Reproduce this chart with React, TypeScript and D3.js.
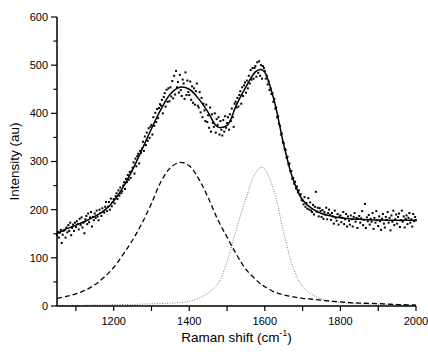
import * as d3 from "d3";
import React, { useEffect, useRef } from "react";

const svgWidth = 428;
const svgHeight = 352;
const margin = { top: 17, right: 12, bottom: 46, left: 57 };

// shift positions (cm-1) where the fitted curves were read
const curveShift = [
  1050, 1075, 1100, 1125, 1150, 1175, 1200, 1225, 1250, 1275, 1300, 1325, 1350,
  1375, 1400, 1425, 1450, 1475, 1500, 1525, 1550, 1575, 1590, 1600, 1625, 1650,
  1675, 1700, 1725, 1750, 1775, 1800, 1825, 1850, 1875, 1900, 1925, 1950, 1975,
  2000,
];

// total fit (solid)
const fitCurve = [
  150, 160, 168, 176, 186, 198, 218, 247, 283, 325, 368, 408, 440, 454, 450,
  430, 402, 372, 375, 418, 455, 486, 491, 485, 425, 335, 262, 220, 202, 192, 187,
  183, 181, 180, 179, 178.5, 178, 178, 178, 178,
];

// D band (dashed)
const dBand = [
  16, 20, 25, 33, 44, 60, 80, 107, 137, 172, 213, 258, 287, 298, 291, 264, 225,
  180, 143, 107, 76, 56, 45, 40, 29, 23, 19, 16, 14, 12, 10, 8.5, 7, 6, 5.5, 5,
  4, 3, 2.5, 2,
];

// G band (dotted)
const gBand = [
  1, 1, 1, 1.5, 2, 2, 2.5, 3, 3, 4, 4.5, 5, 6, 7, 10, 16, 27, 45, 92, 160, 223,
  276, 288, 284, 237, 152, 80, 40, 24, 15, 10, 7, 5.5, 4.5, 4, 3.5, 3, 2.5, 2, 2,
];

// measured spectrum: starts at 1050 cm-1, one point every 2.5 cm-1
const spectrumStart = 1050;
const spectrumStep = 2.5;
const spectrum = [
  147, 154, 142, 152, 158, 131, 148, 156, 158, 142,
  163, 153, 168, 156, 173, 147, 162, 169, 156, 173,
  164, 176, 170, 159, 181, 168, 184, 163, 173, 151,
  180, 187, 170, 192, 174, 184, 195, 165, 185, 178,
  192, 183, 198, 186, 178, 200, 193, 187, 203, 196,
  194, 206, 216, 197, 206, 216, 200, 223, 207, 216,
  222, 213, 228, 234, 222, 240, 229, 246, 234, 238,
  250, 257, 243, 264, 257, 272, 262, 278, 266, 280,
  287, 298, 275, 306, 290, 311, 316, 296, 322, 318,
  327, 341, 322, 352, 334, 360, 343, 369, 349, 372,
  376, 356, 392, 374, 401, 382, 409, 390, 411, 419,
  416, 428, 400, 434, 442, 414, 449, 424, 452, 425,
  454, 435, 467, 431, 478, 439, 488, 454, 465, 443,
  480, 448, 436, 470, 462, 430, 485, 438, 468, 444,
  438, 466, 428, 456, 422, 452, 418, 446, 462, 416,
  412, 444, 402, 432, 392, 420, 406, 384, 418, 382,
  396, 370, 412, 362, 398, 380, 372, 400, 360, 388,
  376, 392, 356, 384, 366, 354, 386, 362, 394, 370,
  380, 392, 366, 398, 384, 410, 392, 372, 420, 424,
  412, 432, 414, 438, 446, 420, 454, 436, 458, 464,
  443, 468, 452, 478, 462, 490, 470, 494, 472, 494,
  498, 476, 506, 484, 508, 478, 500, 472, 498, 494,
  488, 472, 478, 460, 466, 448, 452, 440, 442, 424,
  430, 410, 412, 392, 394, 378, 374, 356, 358, 340,
  338, 326, 324, 308, 310, 294, 296, 280, 280, 264,
  266, 254, 258, 244, 248, 236, 240, 230, 232, 220,
  219, 211, 226, 206, 214, 202, 224, 200, 215, 198,
  195, 210, 190, 206, 237, 196, 204, 186, 203, 197,
  185, 199, 181, 195, 190, 204, 180, 193, 200, 189,
  179, 193, 186, 171, 198, 183, 177, 191, 169, 186,
  188, 174, 183, 195, 170, 180, 191, 165, 186, 177,
  169, 188, 180, 165, 185, 193, 175, 183, 162, 181,
  187, 173, 182, 197, 168, 179, 212, 162, 184, 176,
  189, 169, 181, 175, 193, 160, 183, 173, 197, 178,
  166, 186, 176, 158, 181, 191, 171, 163, 185, 179,
  195, 173, 183, 157, 188, 175, 198, 168, 180, 190,
  171, 185, 192, 164, 178, 198, 175, 186, 163, 181,
  188, 170, 183, 193, 173, 180, 165, 191, 176, 185,
  178,
];

const xTicks = [1200, 1400, 1600, 1800, 2000];
const xMinorTicks = [1100, 1200, 1300, 1400, 1500, 1600, 1700, 1800, 1900, 2000];
const yTicks = [0, 100, 200, 300, 400, 500, 600];
const yMinorTicks = [50, 150, 250, 350, 450, 550];

const font = "'Liberation Sans', Arial, Helvetica, sans-serif";

export default function App() {
  const svgRef = useRef<SVGSVGElement>(null);

  useEffect(() => {
    const svgEl = d3.select(svgRef.current);
    svgEl.selectAll("*").remove();

    const x_scale = d3
      .scaleLinear()
      .domain([1050, 2000])
      .range([margin.left, svgWidth - margin.right]);

    const y_scale = d3
      .scaleLinear()
      .domain([0, 600])
      .range([svgHeight - margin.bottom, margin.top]);

    const y0 = y_scale(0);

    // curves
    const lineFor = (vals: number[]) =>
      d3
        .line<number>()
        .x((d, i) => x_scale(curveShift[i]))
        .y((d) => y_scale(d))
        .curve(d3.curveCatmullRom)(vals);

    // G band (dotted)
    svgEl
      .append("path")
      .attr("d", lineFor(gBand))
      .attr("fill", "none")
      .attr("stroke", "#555")
      .attr("stroke-width", 0.8)
      .attr("stroke-dasharray", "1 1.5");

    // D band (dashed)
    svgEl
      .append("path")
      .attr("d", lineFor(dBand))
      .attr("fill", "none")
      .attr("stroke", "#000")
      .attr("stroke-width", 1.3)
      .attr("stroke-dasharray", "5 3");

    // data points
    svgEl
      .append("g")
      .selectAll("rect")
      .data(spectrum)
      .join("rect")
      .attr("x", (d, i) => x_scale(spectrumStart + i * spectrumStep) - 1)
      .attr("y", (d) => y_scale(d) - 1)
      .attr("width", 2)
      .attr("height", 2)
      .attr("fill", "#000");

    // fit
    svgEl
      .append("path")
      .attr("d", lineFor(fitCurve))
      .attr("fill", "none")
      .attr("stroke", "#000")
      .attr("stroke-width", 1.5);

    /* X AXIS */
    const xAxis = svgEl.append("g");
    xAxis
      .append("line")
      .attr("x1", x_scale(1050))
      .attr("x2", x_scale(2000))
      .attr("y1", y0)
      .attr("y2", y0)
      .attr("stroke", "#000")
      .attr("stroke-width", 1.5);
    xAxis
      .selectAll("line.tick")
      .data(xMinorTicks)
      .join("line")
      .attr("class", "tick")
      .attr("x1", (d) => x_scale(d))
      .attr("x2", (d) => x_scale(d))
      .attr("y1", y0)
      .attr("y2", y0 + 5)
      .attr("stroke", "#000")
      .attr("stroke-width", 1.2);
    xAxis
      .selectAll("text")
      .data(xTicks)
      .join("text")
      .attr("x", (d) => x_scale(d))
      .attr("y", y0 + 19)
      .attr("text-anchor", "middle")
      .attr("font-family", font)
      .attr("font-size", 11)
      .text((d) => d);

    /* Y AXIS */
    const yAxis = svgEl.append("g");
    yAxis
      .append("line")
      .attr("x1", margin.left)
      .attr("x2", margin.left)
      .attr("y1", y_scale(0))
      .attr("y2", y_scale(600))
      .attr("stroke", "#000")
      .attr("stroke-width", 1.5);
    yAxis
      .selectAll("line.major")
      .data(yTicks)
      .join("line")
      .attr("class", "major")
      .attr("x1", margin.left - 6)
      .attr("x2", margin.left)
      .attr("y1", (d) => y_scale(d))
      .attr("y2", (d) => y_scale(d))
      .attr("stroke", "#000")
      .attr("stroke-width", 1.2);
    yAxis
      .selectAll("line.minor")
      .data(yMinorTicks)
      .join("line")
      .attr("class", "minor")
      .attr("x1", margin.left - 3.5)
      .attr("x2", margin.left)
      .attr("y1", (d) => y_scale(d))
      .attr("y2", (d) => y_scale(d))
      .attr("stroke", "#000")
      .attr("stroke-width", 1.2);
    yAxis
      .selectAll("text")
      .data(yTicks)
      .join("text")
      .attr("x", margin.left - 9)
      .attr("y", (d) => y_scale(d))
      .attr("dy", "0.36em")
      .attr("text-anchor", "end")
      .attr("font-family", font)
      .attr("font-size", 11)
      .text((d) => d);

    // axis titles
    const xTitle = svgEl
      .append("text")
      .attr("x", (x_scale(1050) + x_scale(2000)) / 2)
      .attr("y", 341.5)
      .attr("text-anchor", "middle")
      .attr("font-family", font)
      .attr("font-size", 13.5);
    xTitle.append("tspan").text("Raman shift (cm");
    xTitle
      .append("tspan")
      .attr("font-size", 8.5)
      .attr("dy", -6)
      .text("-1");
    xTitle.append("tspan").attr("dy", 6).text(")");

    svgEl
      .append("text")
      .attr("transform", "translate(18.5," + (y_scale(0) + y_scale(600)) / 2 + ") rotate(-90)")
      .attr("text-anchor", "middle")
      .attr("font-family", font)
      .attr("font-size", 13.5)
      .text("Intensity (au)");
  });

  return (
    <div>
      <style>{"body{margin:0}"}</style>
      <svg
        width={svgWidth}
        height={svgHeight}
        ref={svgRef}
        style={{ display: "block", background: "#fff" }}
      ></svg>
    </div>
  );
}
